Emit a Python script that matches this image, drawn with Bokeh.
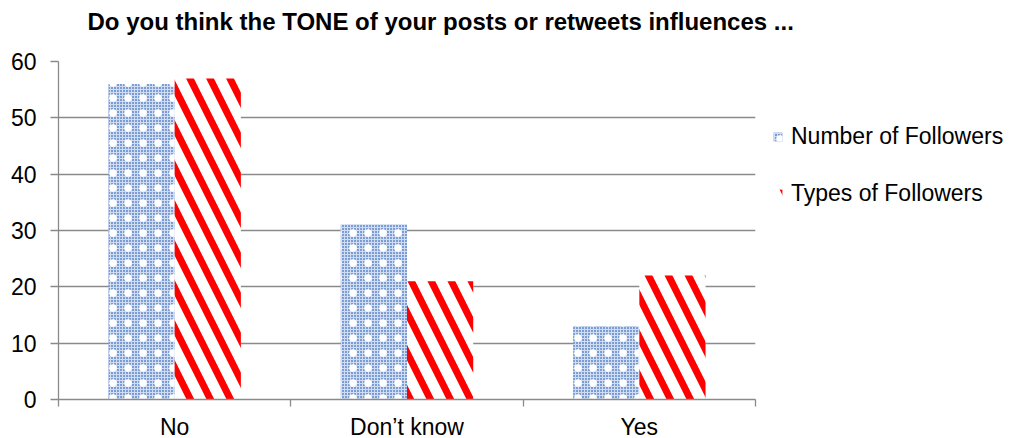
import numpy as np
from bokeh.plotting import figure
from bokeh.models import (ColumnDataSource, Range1d, FixedTicker, Legend, LegendItem, Title)
from bokeh.transform import dodge
from bokeh.embed import file_html
from bokeh.resources import INLINE

title_text = "Do you think the TONE of your posts or retweets influences ..."
categories = ["No", "Don\u2019t know", "Yes"]
number_of_followers = [56, 31, 13]
types_of_followers = [57, 21, 22]
series_names = ["Number of Followers", "Types of Followers"]
y_ticks = [0, 10, 20, 30, 40, 50, 60]

FONT = "Liberation Sans"
GRID = "#8a8a8a"

n = len(categories)
centers = np.arange(n) + 0.5
edges = np.arange(n + 1)
source = ColumnDataSource(dict(x=centers, cat=categories,
                               nf=number_of_followers, tf=types_of_followers))

p = figure(frame_width=697, frame_height=338, output_backend="svg", toolbar_location=None,
           x_range=Range1d(0, n), y_range=Range1d(y_ticks[0], y_ticks[-1]),
           min_border_left=58, min_border_right=258, min_border_top=61,
           min_border_bottom=30)
p.outline_line_color = None
p.background_fill_color = "white"
p.border_fill_color = "white"

p.title.text = title_text
p.title.text_font = FONT
p.title.text_font_style = "bold"
p.title.text_font_size = "24px"
p.title.text_color = "black"
p.title.align = "left"
p.title.offset = 29
p.title.vertical_align = "bottom"
p.title.standoff = 0

# white (invisible) spacer between the title and the plot frame
spacer = Title(text=".", text_font=FONT, text_font_size="12px", text_color="white",
               standoff=16)
p.add_layout(spacer, "above")

bw = 0.285
r1a = p.vbar(x=dodge("x", -bw / 2, range=p.x_range), top="nf", width=bw, source=source,
             fill_color="#7b9dd4", line_color=None,
             hatch_pattern="cross", hatch_color="#cfdcf1", hatch_scale=3, hatch_weight=1)
r1b = p.vbar(x=dodge("x", -bw / 2, range=p.x_range), top="nf", width=bw, source=source,
             fill_color=None, line_color=None,
             hatch_pattern="dot", hatch_color="white", hatch_scale=15, hatch_weight=1)
r2 = p.vbar(x=dodge("x", bw / 2, range=p.x_range), top="tf", width=bw, source=source,
            fill_color="white", line_color=None,
            hatch_pattern="left_diagonal_line", hatch_color="#ff0000",
            hatch_scale=40, hatch_weight=7)

# x axis
xa = p.xaxis[0]
xa.ticker = FixedTicker(ticks=list(centers), minor_ticks=list(edges))
xa.major_label_overrides = {float(c): lab for c, lab in zip(centers, categories)}
xa.major_tick_line_color = None
xa.major_tick_out = 0
xa.major_tick_in = 0
xa.minor_tick_line_color = GRID
xa.minor_tick_line_width = 1.3
xa.minor_tick_out = 7
xa.minor_tick_in = 0
xa.axis_line_color = GRID
xa.axis_line_width = 1.3
xa.major_label_standoff = 7
xa.axis_label_standoff = 0
xa.major_label_text_font = FONT
xa.major_label_text_font_size = "23px"
xa.major_label_text_color = "black"

# y axis
ya = p.yaxis[0]
ya.ticker = FixedTicker(ticks=y_ticks)
ya.major_tick_line_color = GRID
ya.major_tick_line_width = 1.3
ya.major_tick_out = 8
ya.major_tick_in = 0
ya.minor_tick_line_color = None
ya.axis_line_color = GRID
ya.axis_line_width = 1.3
ya.major_label_standoff = 14
ya.major_label_text_font = FONT
ya.major_label_text_font_size = "23px"
ya.major_label_text_color = "black"

p.xgrid.grid_line_color = None
p.ygrid.grid_line_color = GRID
p.ygrid.grid_line_width = 1.3

legend = Legend(items=[LegendItem(label=series_names[0], renderers=[r1a, r1b]),
                       LegendItem(label=series_names[1], renderers=[r2])],
                location=(17, 192), orientation="vertical",
                glyph_width=11, glyph_height=11, label_standoff=8,
                label_text_font=FONT, label_text_font_size="23px",
                label_text_color="black",
                label_height=26, spacing=30, padding=0, margin=0,
                border_line_color=None, background_fill_alpha=0)
p.add_layout(legend, "right")

open("out.html", "w").write(file_html(p, INLINE))
